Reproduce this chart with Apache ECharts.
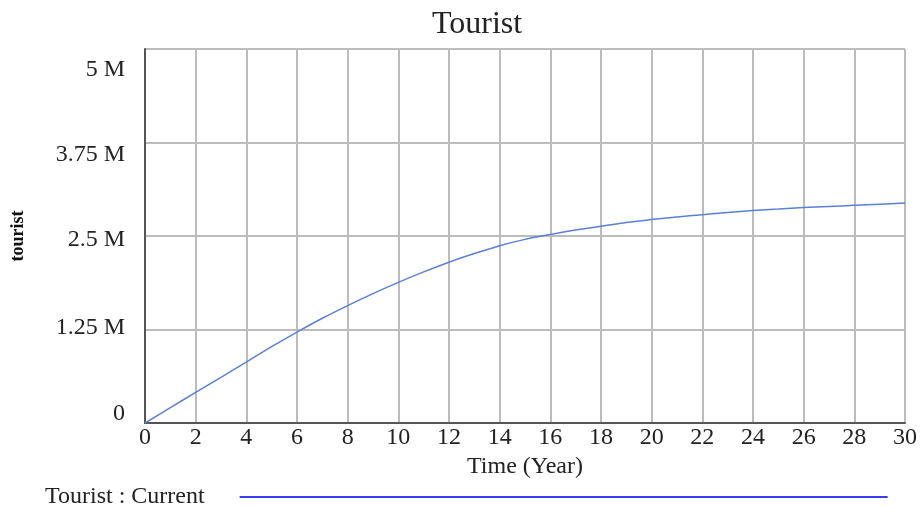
<!DOCTYPE html>
<html>
<head>
<meta charset="utf-8">
<script src="https://cdn.jsdelivr.net/npm/echarts@6/dist/echarts.min.js"></script>
<style>
  html, body { margin: 0; padding: 0; background: #fff; }
  #chartBox { width: 920px; height: 509px; }
</style>
</head>
<body>
<div id="chartBox"></div>
<script>
// time in years
const years = [0, 1, 2, 3, 4, 5, 6, 7, 8, 9, 10, 11, 12, 13, 14, 15, 16, 17, 18, 19, 20, 21, 22, 23, 24, 25, 26, 27, 28, 29, 30]
// tourist, millions
const tourist = [0, 0.205, 0.41, 0.61, 0.815, 1.02, 1.215, 1.40, 1.57, 1.73, 1.88, 2.02, 2.15, 2.265, 2.37, 2.455, 2.52, 2.58, 2.63, 2.68, 2.72, 2.755, 2.785, 2.815, 2.84, 2.86, 2.88, 2.895, 2.91, 2.925, 2.94]
const yTicks = [0, 1250000, 2500000, 3750000, 5000000]
const yTickLabels = ['0', '1.25 M', '2.5 M', '3.75 M', '5 M']

const serif = '"Liberation Serif", "Times New Roman", serif'
// vensim puts its y labels a bit off the grid lines
const labelShift = [
  { padding: [0, 0, 18, 0] },
  { padding: [0, 0, 4, 0] },
  { padding: [8, 0, 0, 0] },
  { padding: [24, 0, 0, 0] },
  { padding: [42, 0, 0, 0] }
]
const rich = {}
labelShift.forEach((s, i) => {
  rich['l' + i] = Object.assign({ fontFamily: serif, fontSize: 24, color: '#222' }, s)
})

let myChart = echarts.init(document.getElementById('chartBox'))
myChart.setOption({
  animation: false,
  title: {
    text: 'Tourist',
    left: 427,
    top: 4,
    textStyle: { fontFamily: serif, fontSize: 32, fontWeight: 'normal', color: '#222' }
  },
  legend: {
    left: 40,
    top: 480,
    align: 'right',
    icon: 'rect',
    itemWidth: 648,
    itemHeight: 2,
    formatter: name => name + '     ',
    textStyle: { fontFamily: serif, fontSize: 24, color: '#222' },
    data: [{ name: 'Tourist : Current', itemStyle: { color: '#3b3bef' } }]
  },
  grid: {
    left: 145,
    right: 11,
    top: 49,
    bottom: 86
  },
  xAxis: {
    type: 'value',
    min: 0,
    max: 30,
    interval: 2,
    name: 'Time (Year)',
    nameLocation: 'middle',
    nameGap: 32,
    nameTextStyle: { fontFamily: serif, fontSize: 24, color: '#222' },
    axisLine: { lineStyle: { color: '#555', width: 2 } },
    axisTick: { show: false },
    axisLabel: { margin: 3, fontFamily: serif, fontSize: 24, color: '#222' },
    splitLine: { show: true, lineStyle: { color: '#bcbcbc', width: 2 } }
  },
  yAxis: {
    type: 'value',
    min: 0,
    max: 5000000,
    interval: 1250000,
    name: 'tourist',
    nameLocation: 'middle',
    nameGap: 118,
    nameTextStyle: { fontFamily: serif, fontSize: 18, fontWeight: 'bold', color: '#111' },
    axisLine: { show: true, lineStyle: { color: '#555', width: 2 } },
    axisTick: { show: false },
    axisLabel: {
      margin: 20,
      rich: rich,
      formatter: v => {
        let i = yTicks.indexOf(v)
        return '{l' + i + '|' + yTickLabels[i] + '}'
      }
    },
    splitLine: { show: true, lineStyle: { color: '#bcbcbc', width: 2 } }
  },
  series: [
    {
      name: 'Tourist : Current',
      type: 'line',
      smooth: 0.3,
      showSymbol: false,
      lineStyle: { color: '#5b80d8', width: 1.5 },
      itemStyle: { color: '#5b80d8' },
      data: years.map((t, i) => [t, tourist[i] * 1000000])
    }
  ]
})
</script>
</body>
</html>
